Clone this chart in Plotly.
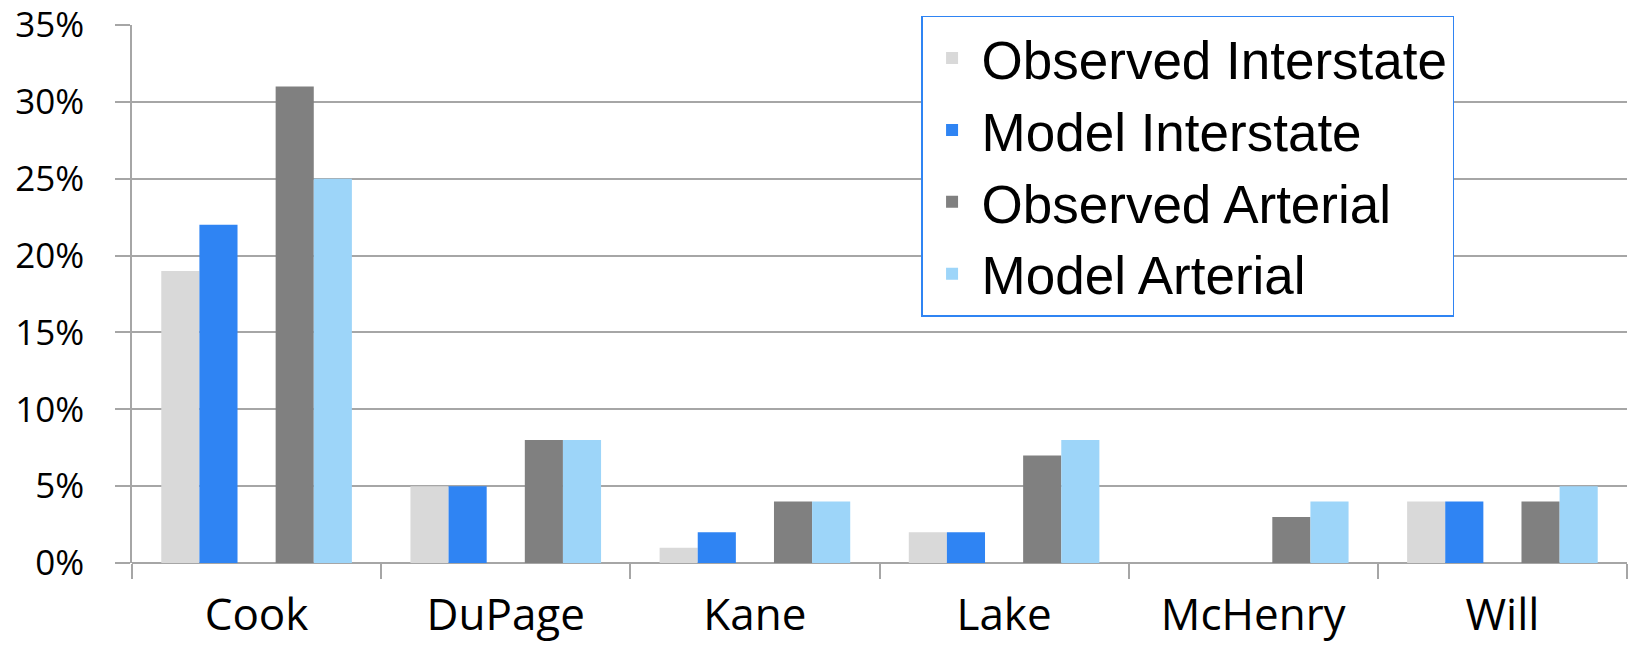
import plotly.graph_objects as go

counties = ["Cook", "DuPage", "Kane", "Lake", "McHenry", "Will"]
observed_interstate = [0.19, 0.05, 0.01, 0.02, 0.00, 0.04]
model_interstate = [0.22, 0.05, 0.02, 0.02, 0.00, 0.04]
observed_arterial = [0.31, 0.08, 0.04, 0.07, 0.03, 0.04]
model_arterial = [0.25, 0.08, 0.04, 0.08, 0.04, 0.05]
y_ticks = [0, 0.05, 0.10, 0.15, 0.20, 0.25, 0.30, 0.35]

series = [
    ("Observed Interstate", observed_interstate, "#D9D9D9"),
    ("Model Interstate", model_interstate, "#2F84F3"),
    (None, [None] * len(counties), "rgba(0,0,0,0)"),
    ("Observed Arterial", observed_arterial, "#808080"),
    ("Model Arterial", model_arterial, "#9DD5F9"),
]

fig = go.Figure()
for i, (name, vals, col) in enumerate(series):
    fig.add_trace(go.Bar(
        x=counties, y=vals, name=name if name else "",
        marker=dict(color=col, line=dict(width=0)),
        showlegend=name is not None,
        hoverinfo="skip" if name is None else None,
    ))

grid = "#A6A6A6"
fig.update_layout(
    width=1630, height=650,
    barmode="group", bargap=0.235, bargroupgap=0,
    plot_bgcolor="white", paper_bgcolor="white",
    margin=dict(l=132, r=3, t=25, b=87, autoexpand=False),
    legend=dict(
        x=0.5278, y=1.0175, xanchor="left", yanchor="top",
        bordercolor="#2F84F3", borderwidth=1.5, bgcolor="white",
        font=dict(family="Liberation Sans, Arial", size=53, color="black"),
        itemwidth=49,
    ),
    xaxis=dict(
        type="category", showgrid=False, showline=False, zeroline=False,
        automargin=False, ticklabeloverflow="allow",
        ticks="outside", tickson="boundaries", ticklen=15, tickcolor=grid, tickwidth=1.5,
        tickfont=dict(family="Open Sans", size=44, color="black"),
        ticklabelstandoff=22,
    ),
    yaxis=dict(
        range=[0, 0.35], tickvals=y_ticks, tickformat=".0%",
        automargin=False, ticklabeloverflow="allow",
        showgrid=True, gridcolor=grid, gridwidth=1.5,
        showline=True, linecolor=grid, linewidth=1.5,
        ticks="outside", ticklen=15, tickcolor=grid, tickwidth=1.5,
        zeroline=True, zerolinecolor=grid, zerolinewidth=1.5,
        tickfont=dict(family="Open Sans", size=35, color="black"),
        ticklabelstandoff=24,
    ),
)

fig.write_html("out.html", config={"displayModeBar": False},
               post_script="document.body.style.margin='0';")
